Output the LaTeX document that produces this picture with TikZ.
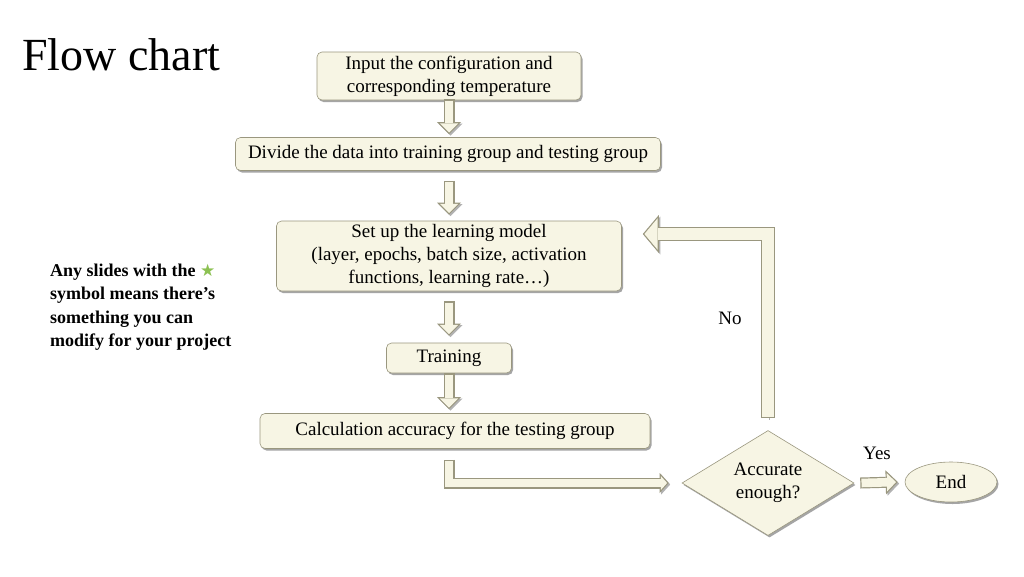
\documentclass[tikz,border=0pt]{standalone}
\usepackage{fontspec}
\setmainfont{Liberation Serif}
\newfontfamily\symfont{DejaVu Sans}
\usetikzlibrary{arrows.meta,shapes.geometric,shadows,calc}
\definecolor{creamc}{HTML}{F7F5E4}
\definecolor{edgec}{HTML}{9A977F}
\definecolor{starc}{HTML}{8CC152}
\begin{document}
\begin{tikzpicture}[x=1pt,y=-1pt,
  every node/.style={font=\fontsize{19}{23}\selectfont, text=black},
  box/.style={draw=edgec, line width=0.6pt, fill=creamc, rounded corners=5pt, align=center, inner sep=0pt,
    drop shadow={shadow xshift=1.5pt, shadow yshift=-2pt, opacity=0.5, fill=black!70}},
  arrshadow/.style={preaction={draw=black, opacity=0.3, transform canvas={shift={(1.5pt,-1.5pt)}}}},
  sarr/.style={line width=11pt, draw=edgec, line join=miter,
    -{Triangle[length=12pt,width=24pt,line width=0pt]}, arrshadow,
    postaction={draw=creamc, line width=8.6pt, shorten <=1.2pt, shorten >=1.7pt,
      -{Triangle[length=9.1pt,width=18.2pt,line width=0pt]}}},
  marr/.style={line width=11pt, draw=edgec, line join=miter,
    -{Triangle[length=9pt,width=20pt,line width=0pt]}, arrshadow,
    postaction={draw=creamc, line width=8.6pt, shorten <=1.2pt, shorten >=1.6pt,
      -{Triangle[length=6.2pt,width=13.8pt,line width=0pt]}}},
  larr/.style={line width=14pt, draw=edgec, line join=miter,
    -{Triangle[length=16pt,width=38pt,line width=0pt]}, arrshadow,
    postaction={draw=creamc, line width=11.6pt, shorten <=1.2pt, shorten >=1.6pt,
      -{Triangle[length=13.2pt,width=31.4pt,line width=0pt]}}},
  lbl/.style={inner sep=0pt}
]
\useasboundingbox[fill=white] (0,0) rectangle (1024,576);

\node[lbl, anchor=base west, font=\fontsize{46}{50}\selectfont] (title) at (22,70) {Flow chart};

\node[lbl, anchor=west, align=left, font=\fontsize{18}{23.5}\selectfont\bfseries] (note) at (50,307)
  {Any slides with the {\symfont\fontsize{17}{17}\selectfont\textcolor{starc}{★}}\\symbol means there’s\\something you can\\modify for your project};

\node[box, minimum width=264pt, minimum height=48pt] (input) at (449,76)
  {Input the configuration and\\corresponding temperature};
\node[box, minimum width=425pt, minimum height=33pt] (divide) at (448,154)
  {Divide the data into training group and testing group};
\node[box, minimum width=345pt, minimum height=70pt] (setup) at (449,256)
  {Set up the learning model\\(layer, epochs, batch size, activation\\functions, learning rate…)};
\node[box, minimum width=125pt, minimum height=30pt] (train) at (449,358) {Training};
\node[box, minimum width=390pt, minimum height=35pt] (calc) at (455,431)
  {Calculation accuracy for the testing group};
\node[box, rounded corners=0pt, diamond, aspect=1.64, minimum width=172pt, minimum height=105pt] (acc) at (768,483)
  {Accurate\\enough?};
\node[box, rounded corners=0pt, ellipse, minimum width=92pt, minimum height=40pt] (end) at (951,482) {End};

\node[lbl] (no) at (730,318) {No};
\node[lbl] (yes) at (877,453) {Yes};

\draw[sarr] ([yshift=1pt]input.south) -- ([yshift=3pt]input.south |- divide.north);
\draw[sarr] ([yshift=-10pt]divide.south -| input.south) -- ([yshift=6pt]input.south |- setup.north);
\draw[sarr] ([yshift=-10pt]setup.south) -- ([yshift=7pt]setup.south |- train.north);
\draw[sarr] (train.south) -- ([yshift=4pt]train.south |- calc.north);
\draw[marr] ([yshift=-11pt]train.south |- calc.south) |- ([xshift=-13pt]acc.west);
\draw[larr] ([yshift=12pt]acc.north) |- ([xshift=21pt,yshift=22pt]setup.east);
\draw[sarr] ([xshift=6pt]acc.east) -- ([xshift=-7pt]end.west);
\end{tikzpicture}
\end{document}
